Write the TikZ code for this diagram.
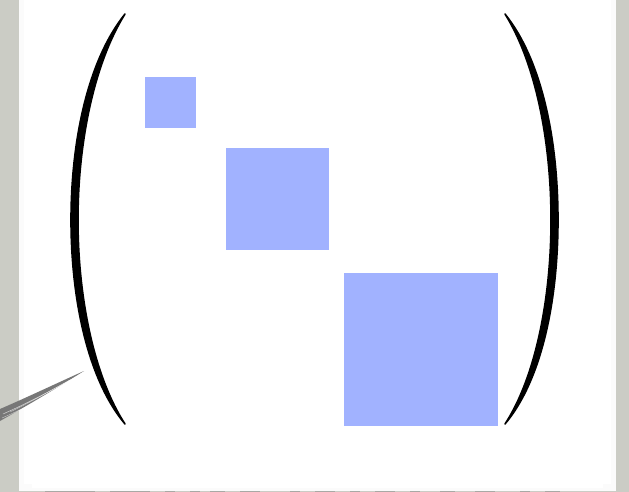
\documentclass[tikz,border=0pt]{standalone}
\definecolor{bg}{RGB}{203,204,197}
\definecolor{blk}{RGB}{161,178,255}
\definecolor{pencil}{RGB}{85,85,85}
\begin{document}
\begin{tikzpicture}[x=1pt,y=-1pt,
  blockbox/.style={fill=blk,draw=none},
  paren/.style={fill=black,draw=black,line width=1.6pt,line cap=round,line join=round},
  pstroke/.style={draw=pencil,line width=1.2pt,line cap=round}]
\useasboundingbox (0,0) rectangle (629,492);
\fill[bg] (0,0) rectangle (629,492);
\fill[white!93!bg] (19,0) rectangle (616,491);
\fill[white] (24,0) rectangle (611,482);
\fill[white] (32,482) rectangle (603,488);
\fill[white] (24,480) rectangle (611,484);
% bottom smudges
\foreach \a/\b in {45/95,110/150,165/175,190/200,210/225,240/260,290/300,315/335,350/360,375/395,410/420,440/455,475/495,520/530,545/560}{
  \fill[black!50,opacity=0.45] (\a,490.5) rectangle (\b,492);
}
% left parenthesis
\coordinate (lt) at (125,14);
\coordinate (lb) at (125,424);
\path[paren] (lt) .. controls (88,60) and (71,140) .. (71,220)
  .. controls (71,300) and (88,380) .. (lb)
  .. controls (95,378) and (78,300) .. (78,220)
  .. controls (78,140) and (95,62) .. (lt) -- cycle;
% right parenthesis
\coordinate (rt) at (505,14);
\coordinate (rb) at (505,424);
\path[paren] (rt) .. controls (542,60) and (558,140) .. (558,220)
  .. controls (558,300) and (542,380) .. (rb)
  .. controls (535,378) and (551,300) .. (551,220)
  .. controls (551,140) and (535,62) .. (rt) -- cycle;
% blocks
\node[blockbox,minimum width=51pt,minimum height=51pt,inner sep=0,anchor=north west] (b1) at (145,77) {};
\node[blockbox,minimum width=103pt,minimum height=102pt,inner sep=0,anchor=north west] (b2) at (226,148) {};
\node[blockbox,minimum width=154pt,minimum height=153pt,inner sep=0,anchor=north west] (b3) at (344,273) {};
% pencil stroke
\fill[pencil!80] (0,409) .. controls (30,396) and (55,384) .. (84,371)
  .. controls (60,386) and (30,404) .. (0,421) -- cycle;
\draw[white,line width=0.5pt,opacity=0.7] (3,414) .. controls (30,402) and (52,390) .. (76,377);
\draw[white,line width=0.4pt,opacity=0.6] (10,412) .. controls (35,400) and (55,388) .. (70,380);
\draw[white,line width=0.4pt,opacity=0.6] (2,418) .. controls (25,408) and (45,397) .. (65,386);
\end{tikzpicture}
\end{document}
